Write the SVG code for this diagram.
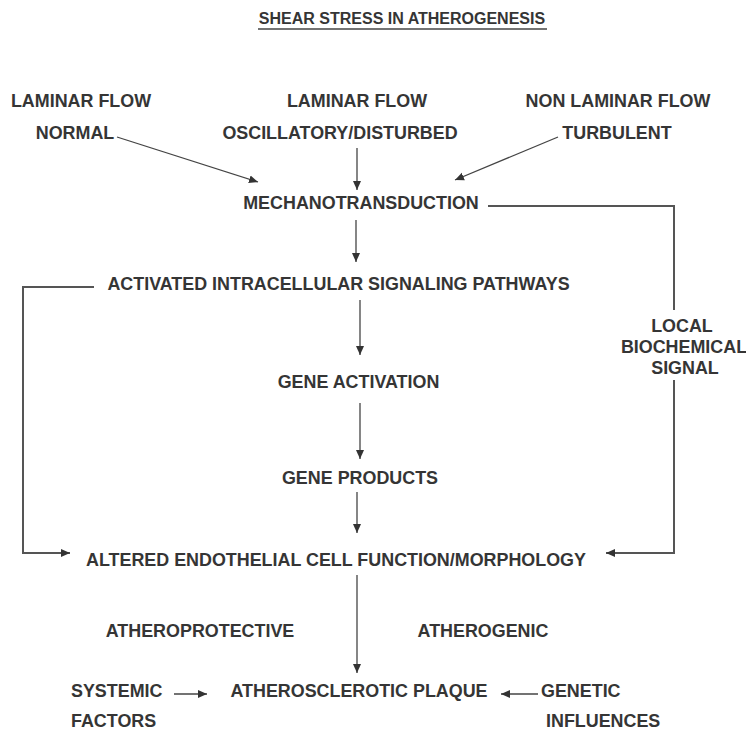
<svg xmlns="http://www.w3.org/2000/svg" width="746" height="731" viewBox="0 0 746 731">
<style>
text{font-family:"Liberation Sans",Arial,sans-serif;font-weight:bold;font-size:17.9px;fill:#353535;}
.t{font-size:16px;}
.m{text-anchor:middle;}
.c{fill:none;stroke:#444;stroke-width:1.3;}
.b{fill:none;stroke:#555;stroke-width:2;}
</style>
<defs>
<marker id="ah" markerUnits="userSpaceOnUse" markerWidth="10" markerHeight="10" refX="9" refY="5" orient="auto">
<path d="M0,1 L9,5 L0,9 Z" fill="#333"/>
</marker>
</defs>
<rect width="746" height="731" fill="#fff"/>
<g id="title">
<text class="t m" x="402" y="24">SHEAR STRESS IN ATHEROGENESIS</text>
<line x1="258" y1="29" x2="547" y2="29" stroke="#444" stroke-width="1.5"/>
</g>
<g id="normal"><text class="m" x="81" y="107">LAMINAR FLOW</text><text class="m" x="75" y="139">NORMAL</text></g>
<g id="oscillatory"><text class="m" x="357" y="107">LAMINAR FLOW</text><text class="m" x="340" y="139">OSCILLATORY/DISTURBED</text></g>
<g id="turbulent"><text class="m" x="618" y="107">NON LAMINAR FLOW</text><text class="m" x="617" y="139">TURBULENT</text></g>
<g id="mechano"><text class="m" x="361" y="209">MECHANOTRANSDUCTION</text></g>
<g id="activated"><text class="m" x="338.5" y="290">ACTIVATED INTRACELLULAR SIGNALING PATHWAYS</text></g>
<g id="local"><text class="m" x="682" y="332">LOCAL</text><text class="m" x="684" y="353">BIOCHEMICAL</text><text class="m" x="685" y="374">SIGNAL</text></g>
<g id="geneact"><text class="m" x="358.5" y="388">GENE ACTIVATION</text></g>
<g id="geneprod"><text class="m" x="360" y="484">GENE PRODUCTS</text></g>
<g id="altered"><text class="m" x="336" y="566">ALTERED ENDOTHELIAL CELL FUNCTION/MORPHOLOGY</text></g>
<g id="atheroprotective"><text class="m" x="200" y="637">ATHEROPROTECTIVE</text></g>
<g id="atherogenic"><text class="m" x="483" y="637">ATHEROGENIC</text></g>
<g id="systemic"><text x="71" y="697">SYSTEMIC</text><text x="71" y="727">FACTORS</text></g>
<g id="plaque"><text class="m" x="359" y="697">ATHEROSCLEROTIC PLAQUE</text></g>
<g id="genetic"><text x="541" y="697">GENETIC</text><text x="546" y="727">INFLUENCES</text></g>
<g id="connectors">
<line class="c" x1="117" y1="137" x2="258" y2="182" marker-end="url(#ah)"/>
<line class="c" x1="357" y1="148" x2="357" y2="190" marker-end="url(#ah)"/>
<line class="c" x1="558" y1="137" x2="455" y2="180" marker-end="url(#ah)"/>
<line class="c" x1="356" y1="220" x2="356" y2="262" marker-end="url(#ah)"/>
<line class="c" x1="360" y1="300" x2="360" y2="355" marker-end="url(#ah)"/>
<line class="c" x1="360" y1="403" x2="360" y2="459" marker-end="url(#ah)"/>
<line class="c" x1="357" y1="492" x2="357" y2="533" marker-end="url(#ah)"/>
<line class="c" x1="357" y1="575" x2="357" y2="673" marker-end="url(#ah)"/>
<polyline class="b" points="94,287 23,287 23,553 70,553" marker-end="url(#ah)"/>
<polyline class="b" points="488,206 674,206 674,310"/>
<polyline class="b" points="674,380 674,553 606,553" marker-end="url(#ah)"/>
<line class="c" x1="174" y1="694" x2="207" y2="694" marker-end="url(#ah)"/>
<line class="c" x1="538" y1="694" x2="501" y2="694" marker-end="url(#ah)"/>
</g>
</svg>
